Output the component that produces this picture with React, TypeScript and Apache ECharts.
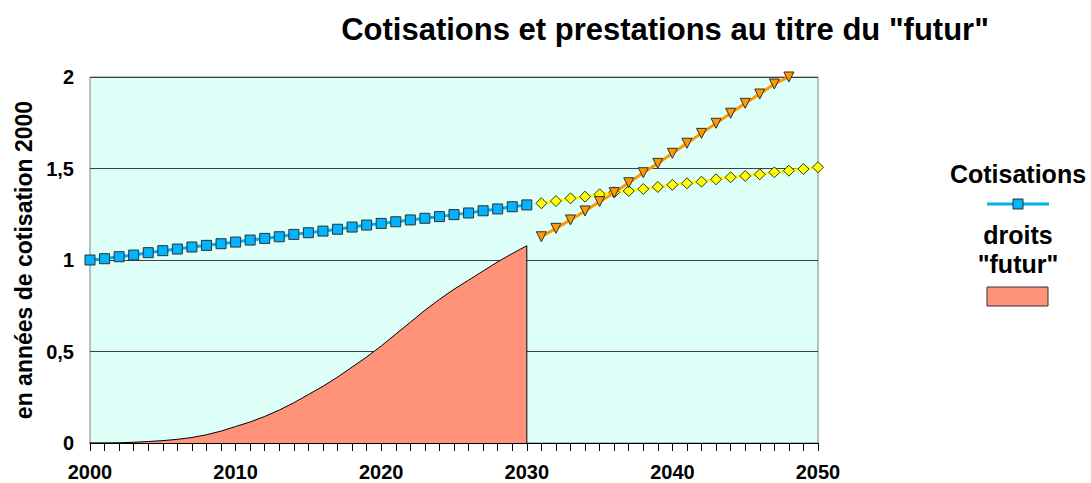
import React, { useEffect, useRef } from "react";
import * as echarts from "echarts";

const titleText = 'Cotisations et prestations au titre du "futur"';
const yAxisName = "en années de cotisation 2000";

const yearsCotis = [2000, 2001, 2002, 2003, 2004, 2005, 2006, 2007, 2008, 2009, 2010, 2011, 2012, 2013, 2014, 2015, 2016, 2017, 2018, 2019, 2020, 2021, 2022, 2023, 2024, 2025, 2026, 2027, 2028, 2029, 2030];
const cotisations = [1.0, 1.007, 1.018, 1.027, 1.04, 1.051, 1.06, 1.071, 1.08, 1.089, 1.098, 1.109, 1.118, 1.127, 1.14, 1.149, 1.158, 1.168, 1.18, 1.191, 1.2, 1.209, 1.219, 1.228, 1.237, 1.248, 1.257, 1.269, 1.279, 1.291, 1.301];
const droitsFutur = [0, 0, 0.001, 0.004, 0.008, 0.013, 0.02, 0.03, 0.045, 0.065, 0.09, 0.115, 0.145, 0.18, 0.22, 0.265, 0.31, 0.36, 0.415, 0.47, 0.53, 0.595, 0.66, 0.725, 0.785, 0.84, 0.89, 0.94, 0.99, 1.035, 1.078];

const yearsFutureCotis = [2031, 2032, 2033, 2034, 2035, 2036, 2037, 2038, 2039, 2040, 2041, 2042, 2043, 2044, 2045, 2046, 2047, 2048, 2049, 2050];
const futureCotisations = [1.31, 1.322, 1.337, 1.346, 1.359, 1.37, 1.377, 1.388, 1.399, 1.411, 1.419, 1.428, 1.441, 1.452, 1.459, 1.468, 1.479, 1.488, 1.497, 1.507];

const yearsPrestations = [2031, 2032, 2033, 2034, 2035, 2036, 2037, 2038, 2039, 2040, 2041, 2042, 2043, 2044, 2045, 2046, 2047, 2048];
const prestations = [1.127, 1.173, 1.219, 1.268, 1.319, 1.368, 1.422, 1.477, 1.528, 1.583, 1.638, 1.692, 1.747, 1.802, 1.856, 1.907, 1.962, 2.0];

const xTicks = [2000, 2010, 2020, 2030, 2040, 2050];
const yTickLabels = ["0", "0,5", "1", "1,5", "2"];

const legendCotis = "Cotisations";
const legendDroits = ["droits", '"futur"'];

export default function App() {
  const ref = useRef<HTMLDivElement>(null);
  useEffect(() => {
    document.body.style.margin = "0";
    const chart = echarts.init(ref.current!, null, { renderer: "svg" });
    const font = "Liberation Sans, Arial, sans-serif";
    const areaData = yearsCotis.map((y, i) => [y, droitsFutur[i]]);
    areaData.push([2030, 0]);
    chart.setOption({
      animation: false,
      backgroundColor: "#ffffff",
      title: {
        text: titleText,
        left: 660,
        top: 9,
        textAlign: "center",
        textStyle: { fontFamily: font, fontWeight: "bold", fontSize: 31, color: "#000" },
      },
      grid: {
        left: 90,
        right: 273,
        top: 77,
        bottom: 40,
        show: true,
        backgroundColor: "#DDFFF8",
        borderColor: "#808080",
        borderWidth: 1,
      },
      xAxis: {
        type: "value",
        min: 2000,
        max: 2050,
        interval: 10,
        axisLine: { show: true, onZero: false, lineStyle: { color: "#000", width: 1 } },
        axisTick: { show: true, inside: false, length: 8, lineStyle: { color: "#000" } },
        minorTick: { show: true, splitNumber: 10, length: 8, lineStyle: { color: "#000" } },
        splitLine: { show: false },
        axisLabel: {
          margin: 19,
          fontFamily: font,
          fontWeight: "bold",
          fontSize: 20,
          color: "#000",
          formatter: (v: number) => (xTicks.includes(v) ? String(v) : ""),
        },
      },
      yAxis: {
        type: "value",
        min: 0,
        max: 2,
        interval: 0.5,
        name: yAxisName,
        nameLocation: "middle",
        nameGap: 55,
        nameRotate: 90,
        nameTextStyle: { fontFamily: font, fontWeight: "bold", fontSize: 23, color: "#000" },
        axisLine: { show: false },
        axisTick: { show: false },
        splitLine: { show: true, lineStyle: { color: "#404040", width: 1 } },
        axisLabel: {
          margin: 16,
          fontFamily: font,
          fontWeight: "bold",
          fontSize: 20,
          color: "#000",
          formatter: (v: number) => yTickLabels[Math.round(v * 2)] ?? "",
        },
      },
      series: [
        {
          name: "droits futur",
          type: "line",
          data: areaData,
          symbol: "none",
          lineStyle: { color: "#000", width: 1 },
          areaStyle: { color: "#FF937A", opacity: 1 },
          z: 1,
        },
        {
          name: "Cotisations",
          type: "line",
          data: yearsCotis.map((y, i) => [y, cotisations[i]]),
          symbol: "rect",
          symbolSize: 10,
          lineStyle: { color: "#00B0F0", width: 3 },
          itemStyle: { color: "#00B4FF", borderColor: "#303030", borderWidth: 1 },
          z: 3,
        },
        {
          name: "Cotisations futures",
          type: "line",
          data: yearsFutureCotis.map((y, i) => [y, futureCotisations[i]]),
          symbol: "diamond",
          symbolSize: 11,
          lineStyle: { color: "#FFFF00", width: 3 },
          itemStyle: { color: "#FFFF00", borderColor: "#303030", borderWidth: 1 },
          z: 3,
        },
        {
          name: "Prestations",
          type: "line",
          data: yearsPrestations.map((y, i) => [y, prestations[i]]),
          symbol: "triangle",
          symbolRotate: 180,
          symbolSize: 10,
          lineStyle: { color: "#FF9900", width: 3 },
          itemStyle: { color: "#FF9900", borderColor: "#303030", borderWidth: 1 },
          z: 4,
        },
      ],
      graphic: [
        {
          type: "text",
          x: 1018,
          y: 174,
          style: { text: legendCotis, fontFamily: font, fontWeight: "bold", fontSize: 25, fill: "#000", align: "center", verticalAlign: "middle" },
        },
        {
          type: "line",
          shape: { x1: 987, y1: 204, x2: 1049, y2: 204 },
          style: { stroke: "#00B0F0", lineWidth: 3 },
        },
        {
          type: "rect",
          shape: { x: 1013, y: 199, width: 10, height: 10 },
          style: { fill: "#00B4FF", stroke: "#303030", lineWidth: 1 },
        },
        {
          type: "text",
          x: 1018,
          y: 235,
          style: { text: legendDroits[0], fontFamily: font, fontWeight: "bold", fontSize: 25, fill: "#000", align: "center", verticalAlign: "middle" },
        },
        {
          type: "text",
          x: 1018,
          y: 264,
          style: { text: legendDroits[1], fontFamily: font, fontWeight: "bold", fontSize: 25, fill: "#000", align: "center", verticalAlign: "middle" },
        },
        {
          type: "rect",
          shape: { x: 987, y: 287, width: 61, height: 19 },
          style: { fill: "#FF937A", stroke: "#303030", lineWidth: 1 },
        },
      ],
    });
    return () => chart.dispose();
  }, []);
  return <div ref={ref} style={{ width: 1091, height: 483 }} />;
}
